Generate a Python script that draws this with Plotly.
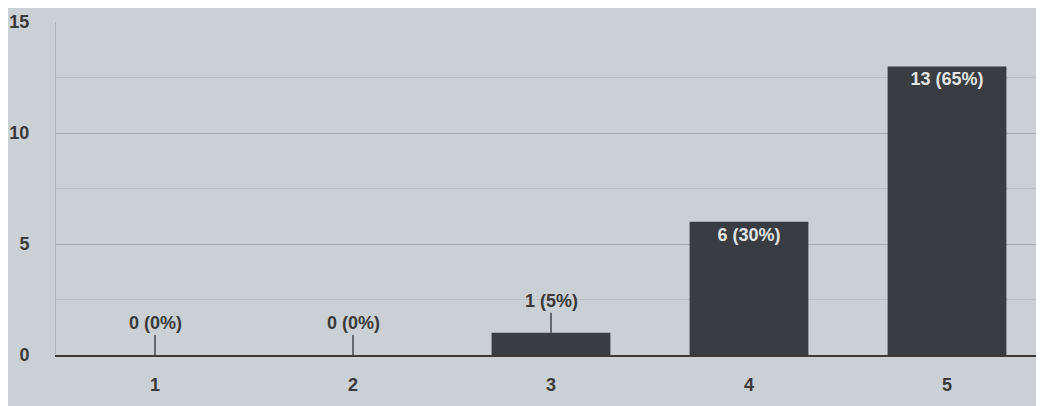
import plotly.graph_objects as go

categories = ["1", "2", "3", "4", "5"]
counts = [0, 0, 1, 6, 13]
percents = [0, 0, 5, 30, 65]
y_ticks = [0, 5, 10, 15]
y_tick_labels = ["0", "5", "10", "15"]

labels = [f"{c} ({p}%)" for c, p in zip(counts, percents)]
inside = [c >= 3 for c in counts]

bg = "#cbd0d5"
bar_color = "#393c41"
font_fam = "Liberation Sans, Arial, sans-serif"

fig = go.Figure()
fig.add_trace(go.Bar(
    x=categories, y=counts,
    marker=dict(color=bar_color, line=dict(width=0)),
    text=[f"<b>{l}</b>" if i else "" for l, i in zip(labels, inside)],
    textposition="inside", insidetextanchor="end",
    textfont=dict(color="#e2e4e6", size=18, family=font_fam),
    width=0.6,
))

for idx, (c, lab, ins) in enumerate(zip(counts, labels, inside)):
    if not ins:
        fig.add_annotation(
            x=idx, y=c, text=f"<b>{lab}</b>", showarrow=True, arrowhead=0,
            arrowwidth=1.5, arrowcolor="#444", ax=0, ay=-20,
            yanchor="bottom",
            font=dict(size=18, color="#3a3a3a", family=font_fam),
        )

fig.update_layout(
    width=1044, height=406,
    margin=dict(l=48, r=6, t=14, b=59),
    paper_bgcolor=bg, plot_bgcolor=bg,
    showlegend=False,
    xaxis=dict(
        showgrid=False, showline=True, linecolor="#3a3a3a", linewidth=2,
        ticks="outside", ticklen=12, tickcolor=bg, automargin=False,
        tickfont=dict(size=18, color="#3a3a3a", family=font_fam),
        tickprefix="<b>", ticksuffix="</b>",
    ),
    yaxis=dict(
        range=[0, 15], tickvals=y_ticks,
        ticktext=[f"<b>{t}</b>" for t in y_tick_labels],
        showgrid=True,
        gridcolor="#a4a9ae", gridwidth=1, zeroline=False,
        minor=dict(dtick=2.5, showgrid=True, gridcolor="#b8bdc2", gridwidth=1),
        showline=True, linecolor="#b0b5ba", linewidth=1,
        ticks="outside", ticklen=22, tickcolor=bg, automargin=False,
        tickfont=dict(size=18, color="#3a3a3a", family=font_fam),
    ),
)

fig.write_html("out.html")
